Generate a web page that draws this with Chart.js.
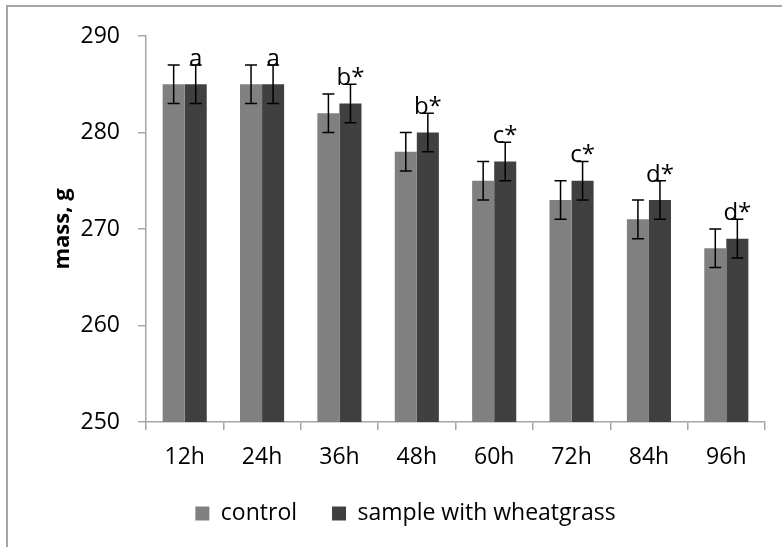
<!DOCTYPE html>
<html>
<head>
<meta charset="utf-8">
<script src="https://cdn.jsdelivr.net/npm/chart.js@4.4.0/dist/chart.umd.min.js"></script>
<style>
    body { margin: 0; background: #fff; }
    #wrap { position: relative; width: 782px; height: 547px; }
    #frame {
        position: absolute; left: 6px; top: 5px; right: -10px; bottom: -10px;
        border-top: 2px solid #a6a6a6; border-left: 2px solid #a6a6a6;
        pointer-events: none;
    }
</style>
</head>
<body>
<div id="wrap">
    <canvas id="grafico" width="782" height="547"></canvas>
    <div id="frame"></div>
</div>
<script>
const horas = ["12h", "24h", "36h", "48h", "60h", "72h", "84h", "96h"];
const controle = [285, 285, 282, 278, 275, 273, 271, 268];
const wheatgrass = [285, 285, 283, 280, 277, 275, 273, 269];
const erroControle = [2, 2, 2, 2, 2, 2, 2, 2];
const erroWheatgrass = [2, 2, 2, 2, 2, 2, 2, 2];
const letras = ["a", "a", "b*", "b*", "c*", "c*", "d*", "d*"];

Chart.defaults.font.family = "'Open Sans', sans-serif";
Chart.defaults.color = "#000";

// barras de erro + letras em cima da segunda serie
const errosPlugin = {
    id: "erros",
    afterDatasetsDraw(chart) {
        const { ctx } = chart;
        const y = chart.scales.y;
        const erros = [erroControle, erroWheatgrass];
        ctx.save();
        ctx.strokeStyle = "#000";
        ctx.lineWidth = 1.5;
        chart.data.datasets.forEach((ds, i) => {
            const meta = chart.getDatasetMeta(i);
            meta.data.forEach((bar, j) => {
                const v = ds.data[j];
                const yTop = y.getPixelForValue(v + erros[i][j]);
                const yBot = y.getPixelForValue(v - erros[i][j]);
                ctx.beginPath();
                ctx.moveTo(bar.x, yTop);
                ctx.lineTo(bar.x, yBot);
                ctx.moveTo(bar.x - 6, yTop);
                ctx.lineTo(bar.x + 6, yTop);
                ctx.moveTo(bar.x - 6, yBot);
                ctx.lineTo(bar.x + 6, yBot);
                ctx.stroke();
                if (i === 1) {
                    ctx.fillStyle = "#000";
                    ctx.font = "24px 'Open Sans'";
                    ctx.textAlign = "center";
                    ctx.textBaseline = "alphabetic";
                    ctx.fillText(letras[j], bar.x, yTop + 1);
                }
            });
        });
        ctx.restore();
    }
};

new Chart(document.getElementById("grafico"), {
    type: "bar",
    data: {
        labels: horas,
        datasets: [
            { label: "control", data: controle, backgroundColor: "#808080",
              categoryPercentage: 0.57, barPercentage: 1.0 },
            { label: "sample with wheatgrass", data: wheatgrass, backgroundColor: "#404040",
              categoryPercentage: 0.57, barPercentage: 1.0 }
        ]
    },
    options: {
        responsive: false,
        animation: false,
        layout: { padding: { top: 36, right: 17, left: 46, bottom: 12 } },
        plugins: {
            tooltip: { enabled: false },
            legend: {
                position: "bottom",
                labels: {
                    boxWidth: 14, boxHeight: 14, padding: 35,
                    font: { size: 23 }
                }
            }
        },
        scales: {
            y: {
                min: 250, max: 290,
                ticks: { stepSize: 10, padding: 18, font: { size: 23 } },
                grid: { drawOnChartArea: false, tickLength: 8, color: "#a6a6a6", lineWidth: 1.5 },
                border: { color: "#a6a6a6", width: 1.5 },
                title: {
                    display: true, text: "mass, g",
                    font: { size: 22, weight: "bold" },
                    padding: { top: 4 }
                },
                afterFit(axis) { axis.width = 100; }
            },
            x: {
                ticks: { padding: 14, font: { size: 23 } },
                grid: { drawOnChartArea: false, tickLength: 8, color: "#a6a6a6", lineWidth: 1.5 },
                border: { color: "#a6a6a6", width: 1.5 },
                afterFit(axis) { axis.height = 45; }
            }
        }
    },
    plugins: [errosPlugin]
});
</script>
</body>
</html>
